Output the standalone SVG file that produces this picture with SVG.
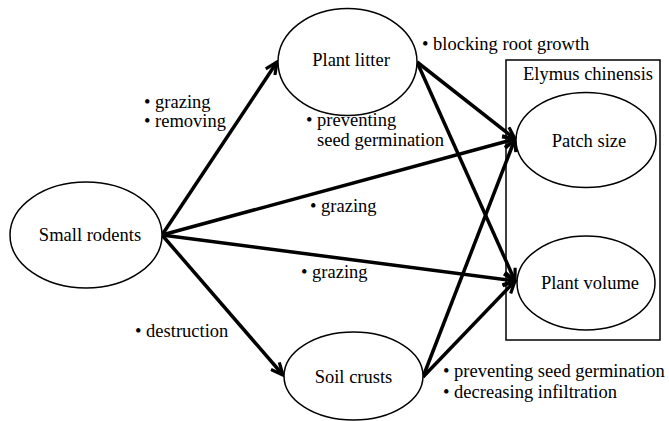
<svg xmlns="http://www.w3.org/2000/svg" width="669" height="421" viewBox="0 0 669 421">
<style>
.node ellipse{fill:#fff;stroke:#000;stroke-width:1.5}
#connectors line{stroke:#000;stroke-width:3.5;fill:none}
</style>
<defs>
<marker id="arr" viewBox="0 0 16 14" refX="14" refY="7" markerWidth="16" markerHeight="14" markerUnits="userSpaceOnUse" orient="auto">
<path d="M2,1.5 L14,7 L2,12.5" fill="none" stroke="#000" stroke-width="3.2"/>
</marker>
</defs>
<rect x="0" y="0" width="669" height="421" fill="#fff"/>
<g font-family="Liberation Serif, Times New Roman, DejaVu Serif, serif" font-size="18.5" fill="#000">
<g id="group-elymus">
<rect x="506" y="60" width="154" height="280" fill="none" stroke="#000" stroke-width="1.5"/>
<text x="523" y="80">Elymus chinensis</text>
</g>
<g id="connectors">
<line x1="162" y1="235" x2="277" y2="62" marker-end="url(#arr)"/>
<line x1="162" y1="235" x2="515" y2="139" marker-end="url(#arr)"/>
<line x1="162" y1="235" x2="515" y2="281" marker-end="url(#arr)"/>
<line x1="162" y1="235" x2="283" y2="375" marker-end="url(#arr)"/>
<line x1="417" y1="62" x2="515" y2="139" marker-end="url(#arr)"/>
<line x1="417" y1="62" x2="515" y2="281" marker-end="url(#arr)"/>
<line x1="423" y1="377" x2="515" y2="139" marker-end="url(#arr)"/>
<line x1="423" y1="377" x2="515" y2="281" marker-end="url(#arr)"/>
</g>
<g id="small-rodents" class="node">
<ellipse cx="86" cy="235" rx="76" ry="53"/>
<text text-anchor="middle" x="90" y="241">Small rodents</text>
</g>
<g id="plant-litter" class="node">
<ellipse cx="347.5" cy="62" rx="69.5" ry="53.5"/>
<text text-anchor="middle" x="351" y="66">Plant litter</text>
</g>
<g id="patch-size" class="node">
<ellipse cx="586" cy="140" rx="70" ry="47.5"/>
<text text-anchor="middle" x="589" y="147">Patch size</text>
</g>
<g id="plant-volume" class="node">
<ellipse cx="586" cy="283" rx="69" ry="47"/>
<text text-anchor="middle" x="590" y="289">Plant volume</text>
</g>
<g id="soil-crusts" class="node">
<ellipse cx="353.5" cy="376" rx="69.5" ry="44"/>
<text text-anchor="middle" x="353.5" y="383">Soil crusts</text>
</g>
<g id="labels">
<text x="144" y="108">• grazing<tspan x="144" y="127">• removing</tspan></text>
<text x="306" y="126">• preventing<tspan x="317" y="146">seed germination</tspan></text>
<text x="422" y="50">• blocking root growth</text>
<text x="310" y="212">• grazing</text>
<text x="301" y="278">• grazing</text>
<text x="135" y="337">• destruction</text>
<text x="443" y="377">• preventing seed germination<tspan x="443" y="398">• decreasing infiltration</tspan></text>
</g>
</g>
</svg>
